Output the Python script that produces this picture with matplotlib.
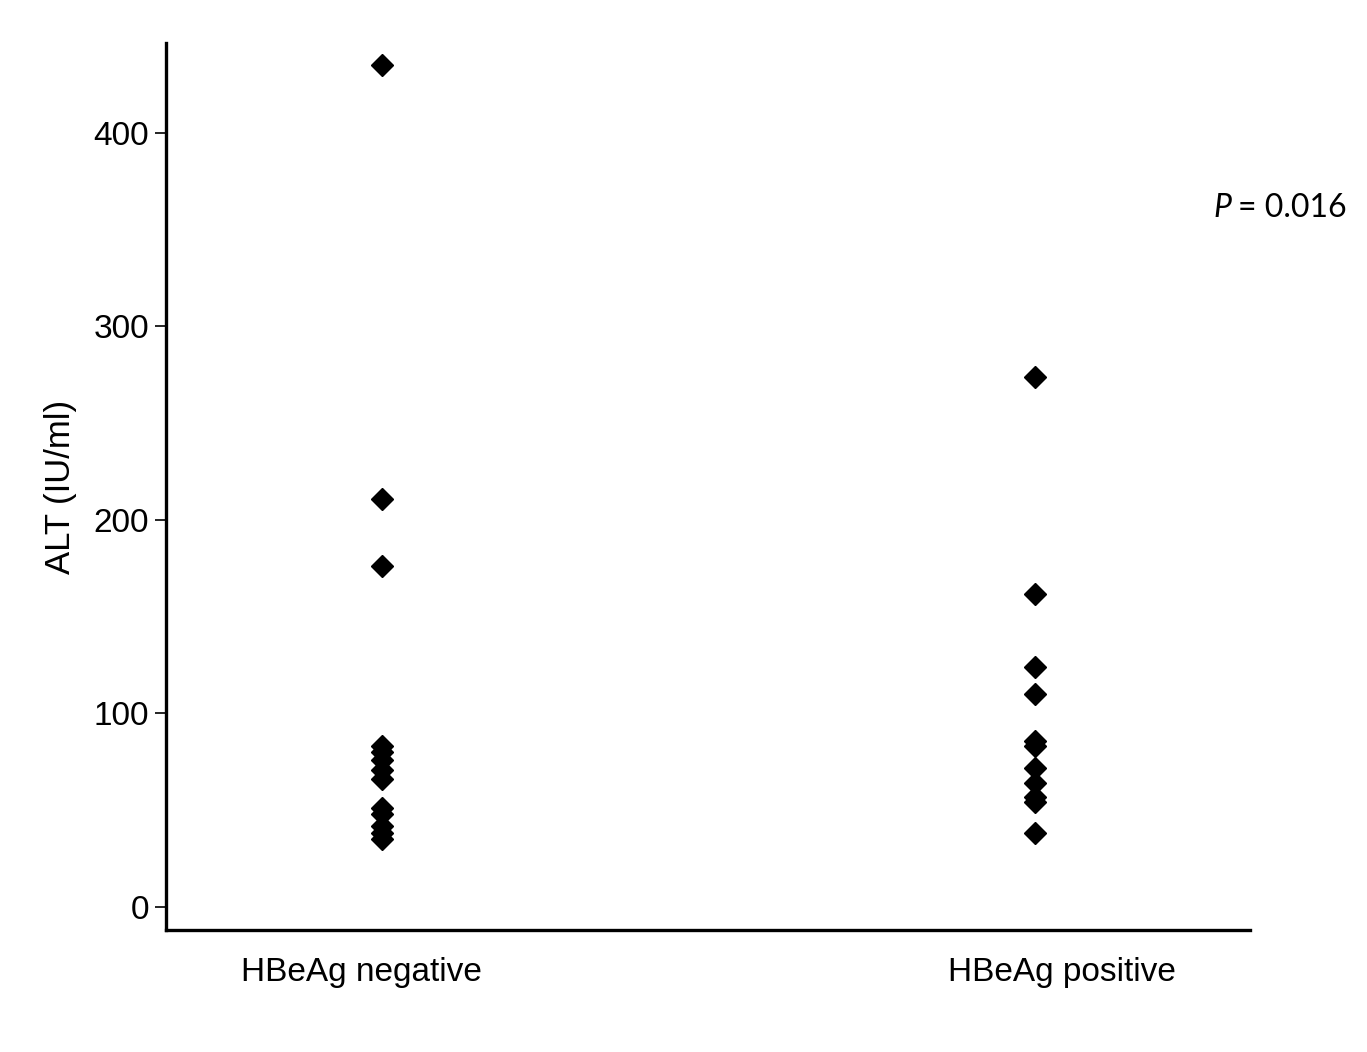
import matplotlib
matplotlib.use("Agg")
import matplotlib.pyplot as plt
from matplotlib import font_manager

categories = ["HBeAg negative", "HBeAg positive"]
negative_alt = [435, 211, 176, 83, 80, 76, 71, 66, 51, 48, 42, 38, 35]
positive_alt = [274, 162, 124, 110, 86, 83, 72, 64, 57, 54, 38]
y_ticks = [0, 100, 200, 300, 400]
p_text = "= 0.016"

names = {f.name for f in font_manager.fontManager.ttflist}
main_font = "Liberation Sans Narrow" if "Liberation Sans Narrow" in names else "Liberation Sans"

fig = plt.figure(figsize=(13.67, 10.52), dpi=100)
ax = fig.add_axes([166/1367, 1-930/1052, (1250-166)/1367, (930-43)/1052])

for i, vals in enumerate([negative_alt, positive_alt]):
    ax.plot([i]*len(vals), vals, linestyle="none", marker="D", ms=11.5,
            mfc="black", mec="black", mew=1.0)

ax.set_xlim(-0.331, 1.329)
ax.set_ylim(-11.9, 446.5)
ax.set_yticks(y_ticks)
ax.set_yticklabels([str(t) for t in y_ticks], fontfamily=main_font, fontsize=24)
ax.tick_params(axis="y", length=8, width=1.2, pad=4)
ax.set_xticks([])
for s in ["top", "right"]:
    ax.spines[s].set_visible(False)
for s in ["left", "bottom"]:
    ax.spines[s].set_linewidth(2.4)

ax.set_ylabel("ALT (IU/ml)", fontfamily=main_font, fontsize=25, labelpad=12)

label_x = [361/1367, 1062/1367]
for lx, cat in zip(label_x, categories):
    fig.text(lx, 1-973/1052, cat, ha="center", va="center",
             fontfamily=main_font, fontsize=24)

fig.text(1213/1367, 1-208/1052, "P", ha="left", va="center", style="italic",
         fontfamily="Lato", fontsize=23)
fig.text(1238/1367, 1-208/1052, p_text, ha="left", va="center",
         fontfamily="Lato", fontsize=23)

fig.savefig("out.png", dpi=100, facecolor="white")
